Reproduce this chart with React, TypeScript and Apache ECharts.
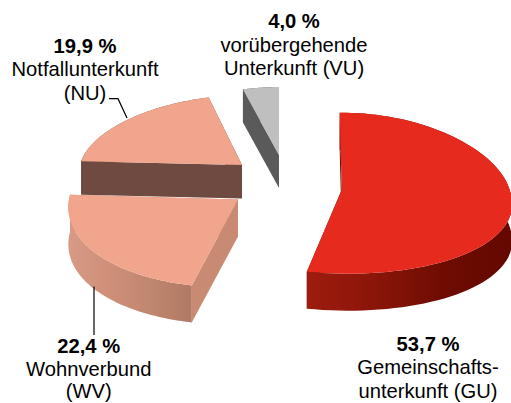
import React, { useEffect, useRef } from "react";
import * as echarts from "echarts";

const categories = ["GU", "WV", "NU", "VU"];
const values = [53.7, 22.4, 19.9, 4.0];
const valueLabels = ["53,7 %", "22,4 %", "19,9 %", "4,0 %"];
const nameLines = [
  ["Gemeinschafts-", "unterkunft (GU)"],
  ["Wohnverbund", "(WV)"],
  ["Notfallunterkunft", "(NU)"],
  ["vorübergehende", "Unterkunft (VU)"],
];

// projection of each exploded slice
const layout = [
  { cx: 341.7, cy: 190, rx: 168, ry: 80.5, ky: 0.04, kx: 0.14, skewFront: 0.08, skewBack: 0, depth: 37 },
  { cx: 238, cy: 199.5, rx: 169, ry: 88, ky: 0, kx: 0.04, skewFront: -0.095, skewBack: -0.08, depth: 37 },
  { cx: 242, cy: 165, rx: 162, ry: 70, ky: 0, kx: 0.06, skewFront: -0.1, skewBack: -0.1, depth: 33.5 },
  { cx: 279, cy: 155, rx: 145, ry: 68, ky: 0, kx: 0, skewFront: -0.03, skewBack: -0.03, depth: 33 },
];
const startAngle = -0.8;
const topColors = ["#E62B1E", "#F0A58C", "#F0A58C", "#BFBFBF"];
const rimStops = [
  ["#9E1C0E", "#8A1509", "#6E0C02", "#640800"],
  ["#D89A86", "#CF8F78", "#C08670", "#B07A62"],
  ["#6E4A40", "#6E4A40", "#6E4A40", "#6E4A40"],
  ["#5A5A5A", "#5A5A5A", "#5A5A5A", "#5A5A5A"],
];
const cutColors = ["#4A0A02", "#C88A72", "#6E4A40", "#5A5A5A"];

const labelCenters = [
  { x: 428, y: 343.5, step: 23.5 },
  { x: 88.7, y: 346.3, step: 22.3 },
  { x: 85, y: 45.5, step: 23.5 },
  { x: 294, y: 21, step: 23.5 },
];
const labelFontSize = 20.2;
const leaders = [
  [[94, 286.5], [94, 335]],
  [[109, 98.7], [118, 98.7], [127, 118]],
];

function project(i: number, deg: number, drop = 0): number[] {
  const g = layout[i];
  const t = (deg * Math.PI) / 180;
  const u = Math.sin(t);
  const v = Math.cos(t);
  const dy = -g.ry * v * (1 - g.ky * v);
  const dx = g.rx * u * (1 - g.kx * v) + (dy > 0 ? g.skewFront : g.skewBack) * dy;
  return [g.cx + dx, g.cy + dy + drop];
}

function renderItem(params: any, api: any) {
  const i = params.dataIndex;
  const g = layout[i];
  const total = values.reduce((a, b) => a + b, 0);
  const before = values.slice(0, i).reduce((a, b) => a + b, 0);
  const a0 = startAngle + (before / total) * 360;
  const a1 = a0 + (api.value(0) / total) * 360;
  const apex = [g.cx, g.cy];
  const arc: number[][] = [];
  const arcDrop: number[][] = [];
  const n = 80;
  for (let k = 0; k <= n; k++) {
    const d = a0 + ((a1 - a0) * k) / n;
    arc.push(project(i, d));
    arcDrop.push(project(i, d, g.depth));
  }
  const down = (p: number[]) => [p[0], p[1] + g.depth];
  const cut = (p: number[]) => ({
    type: "polygon",
    shape: { points: [apex, p, down(p), down(apex)] },
    style: { fill: cutColors[i] },
  });
  const stops = rimStops[i].map((color, k) => ({ offset: k / 3, color }));
  const rim = {
    type: "polygon",
    shape: { points: [...arc, ...arcDrop.slice().reverse()] },
    style: { fill: new echarts.graphic.LinearGradient(0, 0, 1, 0, stops) },
  };
  const top = {
    type: "polygon",
    shape: { points: [apex, ...arc] },
    style: { fill: topColors[i] },
  };
  return {
    type: "group",
    children: [cut(arc[0]), cut(arc[n]), rim, top],
  };
}

export default function App() {
  const ref = useRef<HTMLDivElement>(null);
  useEffect(() => {
    document.body.style.margin = "0";
    const chart = echarts.init(ref.current!, undefined, { renderer: "svg" });
    const texts: any[] = [];
    labelCenters.forEach((c, i) => {
      const font = "Liberation Sans";
      texts.push({
        type: "text",
        x: c.x,
        y: c.y,
        style: {
          text: valueLabels[i],
          fontFamily: font,
          fontSize: labelFontSize,
          fontWeight: "bold",
          fill: "#000",
          align: "center",
          verticalAlign: "middle",
        },
      });
      nameLines[i].forEach((line, j) => {
        texts.push({
          type: "text",
          x: c.x,
          y: c.y + c.step * (j + 1),
          style: {
            text: line,
            fontFamily: font,
            fontSize: labelFontSize,
            fill: "#000",
            align: "center",
            verticalAlign: "middle",
          },
        });
      });
    });
    const lines = leaders.map((points) => ({
      type: "polyline",
      shape: { points },
      style: { stroke: "#000", lineWidth: 1.2, fill: "none" },
      z: 10,
    }));
    chart.setOption({
      animation: false,
      backgroundColor: "#fff",
      graphic: [...lines, ...texts],
      series: [
        {
          type: "custom",
          coordinateSystem: "none",
          renderItem,
          silent: true,
          data: categories.map((name, i) => ({ name, value: [values[i]] })),
          encode: { value: 0 },
        },
      ],
    });
    return () => chart.dispose();
  }, []);
  return <div ref={ref} style={{ width: 511, height: 403 }} />;
}
